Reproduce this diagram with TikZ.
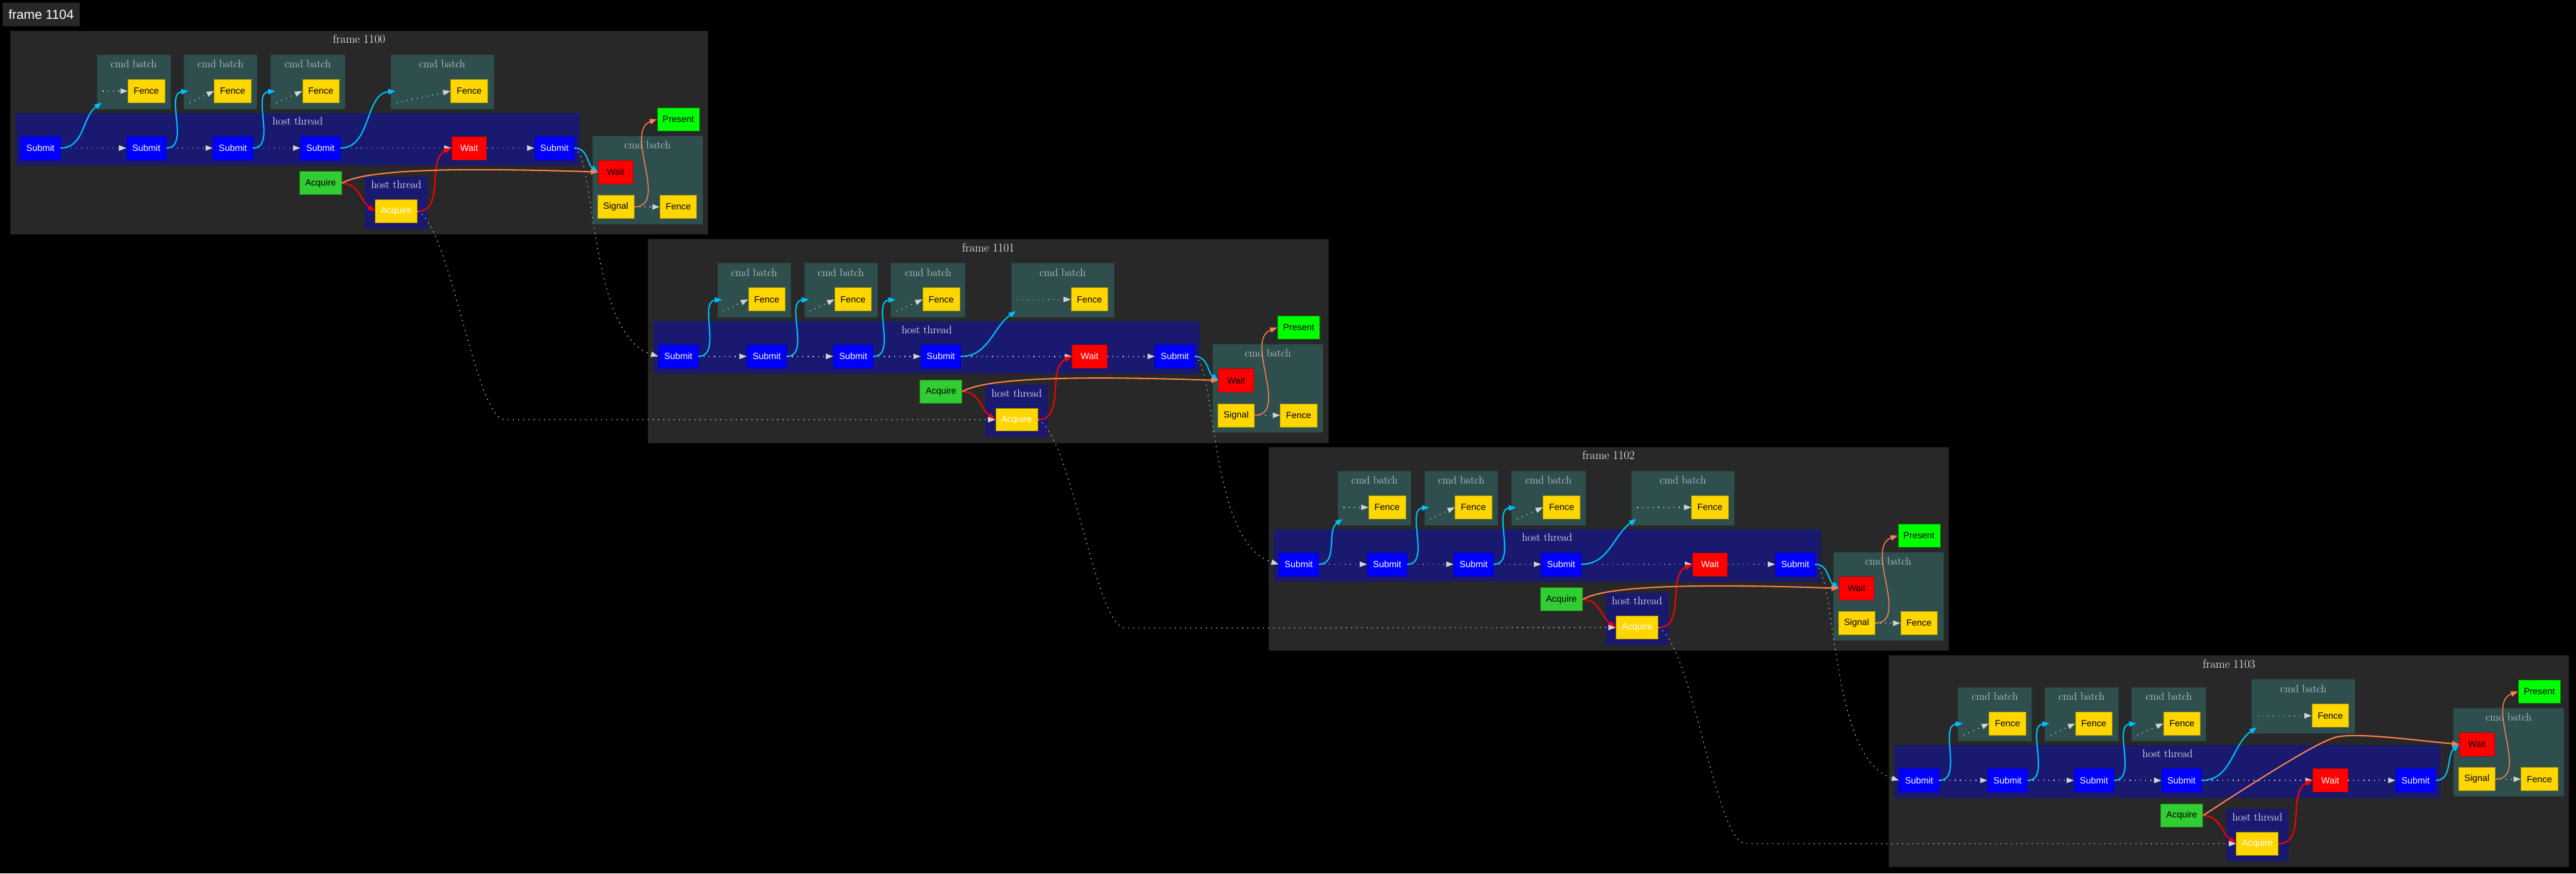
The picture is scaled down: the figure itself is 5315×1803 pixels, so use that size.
\documentclass[tikz,border=0pt]{standalone}
\usepackage{fontspec}
\newfontfamily\opfont{Liberation Sans}
\usetikzlibrary{arrows.meta,positioning}
\definecolor{framebg}{HTML}{282828}
\definecolor{frameedge}{HTML}{1E1E1E}
\definecolor{batchbg}{HTML}{2F4F4F}
\definecolor{hostbg}{HTML}{191970}
\definecolor{submitblue}{HTML}{0000FF}
\definecolor{fencegold}{HTML}{FFD700}
\definecolor{acquiregreen}{HTML}{32CD32}
\definecolor{presentgreen}{HTML}{00FF00}
\definecolor{seqgray}{HTML}{D3D3D3}
\definecolor{deepsky}{HTML}{00BFFF}
\definecolor{coralrose}{HTML}{FF7F50}

\tikzset{
  framebox/.style={draw=frameedge, fill=framebg, line width=1pt, inner sep=0pt},
  batchbox/.style={draw=batchbg!85!black, fill=batchbg, line width=1pt, inner sep=0pt},
  hostbox/.style={fill=hostbg, inner sep=0pt},
  clustertitle/.style={inner sep=0pt, text=white, font=\fontsize{22.6pt}{24pt}\selectfont},
  opbox/.style={line width=1pt, minimum height=48pt, inner sep=0pt, font=\opfont\fontsize{18.67pt}{22pt}\selectfont},
  submitop/.style={opbox, fill=submitblue, draw=submitblue!80!black, text=white, minimum width=82pt},
  waitop/.style={opbox, fill=red, draw=red!75!black, text=white, minimum width=72pt},
  batchwaitop/.style={opbox, fill=red, draw=red!75!black, text=black, minimum width=72pt},
  fenceop/.style={opbox, fill=fencegold, draw=fencegold!70!black, text=black, minimum width=76pt},
  signalop/.style={opbox, fill=fencegold, draw=fencegold!70!black, text=black, minimum width=75pt},
  imageop/.style={opbox, fill=fencegold, draw=fencegold!55!black, text=white, minimum width=87pt},
  acquireop/.style={opbox, fill=acquiregreen, draw=acquiregreen!60!black, text=black, minimum width=87pt},
  presentop/.style={opbox, fill=presentgreen, draw=presentgreen!50!black, text=black, minimum width=87pt},
  seqline/.style={draw=seqgray, line width=1.8pt, dash pattern=on 1.8pt off 8.9pt, -{Triangle[length=15pt,width=11pt]}},
  submitline/.style={draw=deepsky, line width=2.7pt, -{Triangle[length=15pt,width=11pt]}},
  acquireline/.style={draw=red, line width=2.7pt, -{Triangle[length=15pt,width=11pt]}},
  presentline/.style={draw=coralrose, line width=2.7pt, -{Triangle[length=15pt,width=11pt]}},
}

% one cmd batch: name, left, top, width, fence x, kind (0 level, 1 rising), submit node
\newcommand{\cmdbatch}[7]{%
  \node[batchbox, anchor=north west, minimum width=#4pt, minimum height=111pt] (#1) at (#2,#3) {};
  \node[clustertitle, text=seqgray, below=11pt of #1.north] (#1-title) {cmd batch};
  \node[fenceop] (#1-fence) at (#5,#3+75) {Fence};
  \ifnum#6=0
    \coordinate (#1-src) at (#2+12,#3+75);
    \coordinate (#1-in) at (#2+10,#3+99);
    \draw[seqline] (#1-src) -- (#1-fence.west);
    \draw[submitline] (#7.east) to[out=0,in=215] (#1-in);
  \else
    \coordinate (#1-src) at (#2+12,#3+99);
    \coordinate (#1-in) at (#2+10,#3+75);
    \draw[seqline] (#1-src) -- (#1-fence.west);
    \draw[submitline] (#7.east) to[out=0,in=185] (#1-in);
  \fi
}

% one frame: number, x, y, extra width on the left, last frame, kinds of the four batches
\newcommand{\gpuframe}[9]{%
  \ifnum#5=0 \def\framedy{0}\def\framedr{0}\def\frameht{420}\else\def\framedy{16}\def\framedr{-108}\def\frameht{436}\fi
  \begin{scope}[shift={(#2,#3)}]
    \node[framebox, anchor=north west, minimum width=1403pt+#4pt, minimum height=\frameht pt] (f#1) at (-#4,0) {};
    \node[clustertitle, font=\fontsize{24.5pt}{26pt}\selectfont, below=9pt of f#1.north] (f#1-title) {frame #1};
    \node[hostbox, anchor=north west, minimum width=1128pt+#4pt, minimum height=108pt] (f#1-host) at (11-#4,170+\framedy) {};
    \node[clustertitle, below=9pt of f#1-host.north] (f#1-host-title) {host thread};
    \node[hostbox, anchor=north west, minimum width=129pt, minimum height=108pt] (f#1-host2) at (696,301+\framedy) {};
    \node[clustertitle, below=9pt of f#1-host2.north] (f#1-host2-title) {host thread};
    \node[batchbox, anchor=north west, minimum width=227pt, minimum height=182pt] (f#1-batch) at (1165,217+\framedr) {};
    \node[clustertitle, text=seqgray, below=11pt of f#1-batch.north] (f#1-batch-title) {cmd batch};
    \node[submitop] (f#1-s1) at (62.5-#4,242.5+\framedy) {Submit};
    \node[submitop] (f#1-s2) at (245,242.5+\framedy) {Submit};
    \node[submitop] (f#1-s3) at (423.5,242.5+\framedy) {Submit};
    \node[submitop] (f#1-s4) at (604,242.5+\framedy) {Submit};
    \node[waitop] (f#1-wait) at (911,242.5+\framedy) {Wait};
    \node[submitop] (f#1-s5) at (1087,242.5+\framedy) {Submit};
    \node[acquireop] (f#1-acq) at (604.5,315+\framedy) {Acquire};
    \node[imageop] (f#1-hacq) at (760.5,373+\framedy) {Acquire};
    \node[presentop] (f#1-present) at (1342.5,183+\framedr) {Present};
    \node[batchwaitop] (f#1-bwait) at (1213.5,292+\framedr) {Wait};
    \node[signalop] (f#1-signal) at (1213.5,364+\framedr) {Signal};
    \node[fenceop] (f#1-bfence) at (1342.5,364+\framedr) {Fence};
    \cmdbatch{f#1-b1}{143}{50+\framedy}{151}{245}{#6}{f#1-s1}
    \cmdbatch{f#1-b2}{322}{50+\framedy}{151}{423}{#7}{f#1-s2}
    \cmdbatch{f#1-b3}{501}{50+\framedy}{153}{605}{#8}{f#1-s3}
    \cmdbatch{f#1-b4}{749}{50}{212}{911}{#9}{f#1-s4}
    \draw[seqline] (f#1-s1) -- (f#1-s2);
    \draw[seqline] (f#1-s2) -- (f#1-s3);
    \draw[seqline] (f#1-s3) -- (f#1-s4);
    \draw[seqline] (f#1-s4) -- (f#1-wait);
    \draw[seqline] (f#1-wait) -- (f#1-s5);
    \draw[seqline] (f#1-signal) -- (f#1-bfence);
    \draw[acquireline] (f#1-acq.east) to[out=0,in=145] (f#1-hacq.west);
    \draw[acquireline] (f#1-hacq.east) to[out=0,in=205] (f#1-wait.west);
    \draw[presentline, line width=2pt] (f#1-signal.east) to[out=0,in=200] (f#1-present.west);
    \ifnum#5=0
      \draw[submitline] (f#1-s5.east) to[out=0,in=145] (f#1-bwait.west);
      \draw[presentline] (f#1-acq.east) .. controls +(52,-30) and +(-278,-9) .. (f#1-bwait.west);
    \else
      \draw[submitline] (f#1-s5.east) to[out=0,in=220] (f#1-bwait.west);
      \draw[presentline] (f#1-acq.east) .. controls +(110,-72) and +(-40,12) .. (920,170) .. controls +(40,-12) and +(-90,-8) .. (f#1-bwait.west);
    \fi
  \end{scope}
}

\begin{document}
\begin{tikzpicture}[x=1pt,y=-1pt]
  \fill[black] (0,0) rectangle (5315,1803);
  \useasboundingbox (0,0) rectangle (5315,1803);
  \node[framebox, anchor=north west, minimum width=159pt, minimum height=48pt, text=white, font=\opfont\fontsize{27pt}{30pt}\selectfont] (legend) at (5,5) {frame 1104};

  \gpuframe{1100}{57}{63}{36}{0}{0}{1}{1}{1}
  \gpuframe{1101}{1337}{493}{0}{0}{1}{1}{1}{0}
  \gpuframe{1102}{2617}{922}{0}{0}{0}{1}{1}{0}
  \gpuframe{1103}{3897}{1352}{0}{1}{1}{1}{1}{0}

  \draw[seqline] (f1100-s5.east) .. controls +(45,23) and +(-144,-45) .. (f1101-s1.west);
  \draw[seqline] (f1101-s5.east) .. controls +(45,23) and +(-144,-45) .. (f1102-s1.west);
  \draw[seqline] (f1102-s5.east) .. controls +(45,23) and +(-144,-45) .. (f1103-s1.west);
  \draw[seqline] (f1100-hacq.east) .. controls +(69,33) and +(-61,0) .. ++(180,430) -- (f1101-hacq.west);
  \draw[seqline] (f1101-hacq.east) .. controls +(69,33) and +(-61,0) .. ++(180,430) -- (f1102-hacq.west);
  \draw[seqline] (f1102-hacq.east) .. controls +(69,33) and +(-61,0) .. ++(180,446) -- (f1103-hacq.west);
\end{tikzpicture}
\end{document}
